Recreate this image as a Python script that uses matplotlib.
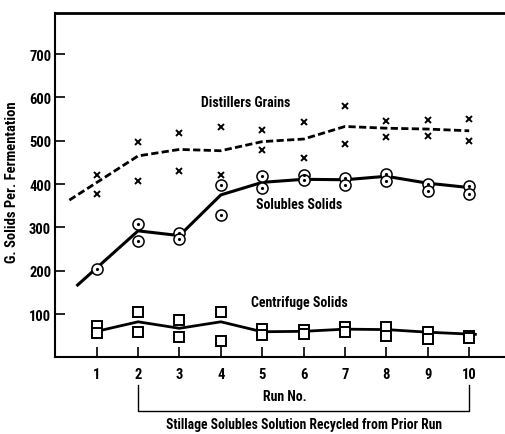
import numpy as np
import matplotlib
matplotlib.use("Agg")
import matplotlib.pyplot as plt

plt.rcParams['font.family'] = ['Roboto Condensed', 'PT Sans Narrow', 'Liberation Sans', 'DejaVu Sans']
plt.rcParams['font.weight'] = 'bold'

# Run numbers
runs = [1, 2, 3, 4, 5, 6, 7, 8, 9, 10]

# Distillers grains, two fermentations per run (g)
dg_hi = [422, 498, 517, 532, 525, 544, 581, 545, 548, 550]
dg_lo = [378, 407, 431, 421, 479, 461, 492, 508, 511, 500]
dg_line_x = [0.34, 2, 3, 4, 5, 6, 7, 8, 9, 10]
dg_line_y = [363, 465, 480, 477, 498, 504, 533, 529, 527, 523]

# Solubles solids
ss_runs = [1, 2, 2, 3, 3, 4, 4, 5, 5, 6, 6, 7, 7, 8, 8, 9, 9, 10, 10]
ss_vals = [204, 308, 268, 286, 273, 398, 328, 418, 392, 421, 410,
           415, 398, 423, 408, 400, 384, 395, 378]
ss_line_x = [0.54, 2, 3, 4, 5, 6, 7, 8, 9, 10]
ss_line_y = [167, 292, 281, 375, 404, 411, 410, 418, 402, 392]

# Centrifuge solids
cs_hi = [72, 105, 87, 104, 65, 64, 69, 69, 58, 50]
cs_lo = [55, 59, 48, 38, 52, 53, 58, 50, 42, 44]
cs_line_x = [1, 2, 3, 4, 5, 6, 7, 8, 9, 10.15]
cs_line_y = [60, 82, 67, 82, 59, 60, 65, 64, 58, 53]

yticks = [100, 200, 300, 400, 500, 600, 700]

fig = plt.figure(figsize=(5.06, 4.35), dpi=100)
ax = fig.add_axes([0.1093, 0.1763, 0.8907, 0.7915])
ax.set_xlim(0, 10.89)
ax.set_ylim(0, 795)

# Distillers grains
ax.plot(dg_line_x, dg_line_y, color='black', lw=2, dashes=(2.6, 1.2))
ax.plot(runs, dg_hi, 'x', color='black', ms=4.8, mew=1.4)
ax.plot(runs, dg_lo, 'x', color='black', ms=4.8, mew=1.4)

# Solubles solids
ax.plot(ss_line_x, ss_line_y, color='black', lw=2.2)
ax.plot(ss_runs, ss_vals, 'o', mfc='white', mec='black', ms=8, mew=1.1)
ax.plot(ss_runs, ss_vals, '.', color='black', ms=2.5)

# Centrifuge solids
ax.plot(cs_line_x, cs_line_y, color='black', lw=2)
ax.plot(runs, cs_hi, 's', mfc='white', mec='black', ms=6.5, mew=1.4)
ax.plot(runs, cs_lo, 's', mfc='white', mec='black', ms=6.5, mew=1.4)

ax.text(4.6, 589, 'Distillers Grains', ha='center', va='center', fontsize=10)
ax.text(5.89, 354, 'Solubles Solids', ha='center', va='center', fontsize=10)
ax.text(5.89, 127, 'Centrifuge Solids', ha='center', va='center', fontsize=10)

ax.set_xticks(runs)
ax.set_yticks(yticks)
ax.tick_params(axis='both', direction='in', length=7, width=1.2, labelsize=10.5)
ax.tick_params(axis='x', pad=7)
ax.tick_params(axis='y', pad=3)

ax.spines['right'].set_visible(False)
ax.spines['top'].set_linewidth(2)
ax.spines['left'].set_linewidth(1.5)
ax.spines['bottom'].set_linewidth(1.5)

ax.text(5.55, -89, 'Run No.', ha='center', va='center', fontsize=10)

# bracket for the recycled runs
ax.plot([2, 2, 10, 10], [-65, -123, -123, -65], color='black', lw=1, clip_on=False)
ax.text(6.02, -164, 'Stillage Solubles Solution Recycled from Prior Run',
        ha='center', va='baseline', fontsize=9.8)

fig.text(12 / 506, 1 - 182 / 435, 'G. Solids Per. Fermentation', rotation=90,
         ha='center', va='center', fontsize=10.5)

fig.savefig('out.png', dpi=100)
